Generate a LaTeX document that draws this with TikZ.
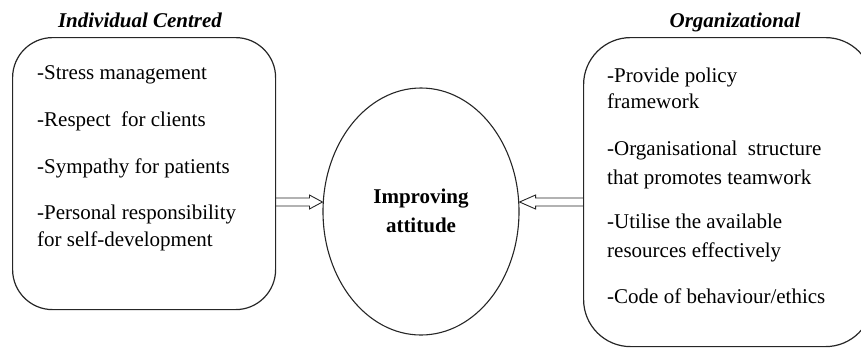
\documentclass[tikz,border=0pt]{standalone}
\usepackage{fontspec}
\setmainfont{Liberation Serif}
\usetikzlibrary{shapes.geometric,calc}
\tikzset{
  box/.style={draw=black!85, line width=1.2pt, anchor=north west},
  oval/.style={ellipse, draw=black!85, line width=1.1pt, inner sep=0pt},
  txt/.style={anchor=base west, inner sep=0pt, font=\fontsize{21}{26}\selectfont},
  ctr/.style={anchor=base, inner sep=0pt, font=\fontsize{21}{26}\selectfont\bfseries},
  ttl/.style={anchor=base, inner sep=0pt, font=\fontsize{21}{26}\selectfont\bfseries\itshape},
  arr/.style={draw=black!85, line width=0.9pt, line join=miter}
}
\begin{document}
\begin{tikzpicture}[x=1pt,y=-1pt]
\useasboundingbox (0,0) rectangle (861,349);
\clip (0,0) rectangle (861,349);
% boxes
\node[box, rounded corners=40pt, minimum width=263pt, minimum height=272pt] (L) at (12,37) {};
\node[box, rounded corners=47pt, minimum width=289pt, minimum height=309pt] (R) at (583,37) {};
\node[oval, minimum width=196pt, minimum height=247pt] (E) at (421,211.5) {};
% titles
\node[ttl] (tl) at (140,27) {Individual Centred};
\node[ttl] (tr) at (735,27) {Organizational};
% centre text
\node[ctr] (c1) at (421,203) {Improving};
\node[ctr] (c2) at (421,232) {attitude};
% left items
\node[txt] (l1) at (37,79) {-Stress management};
\node[txt] (l2) at (37,126) {-Respect\ \ for clients};
\node[txt] (l3) at (37,173) {-Sympathy\ for patients};
\node[txt] (l4) at (37,219) {-Personal\ responsibility};
\node[txt] (l5) at (37,246) {for self-development};
% right items
\node[txt] (r1) at (607,82) {-Provide policy};
\node[txt] (r2) at (607,108) {framework};
\node[txt] (r3) at (607,155) {-Organisational\ \ structure};
\node[txt] (r4) at (607,184) {that promotes teamwork};
\node[txt] (r5) at (607,228) {-Utilise the available};
\node[txt] (r6) at (607,257) {resources effectively};
\node[txt] (r7) at (607,303) {-Code of behaviour/ethics};
% arrows
\coordinate (ay) at (0,202);
\coordinate (ls) at (L.east |- ay);
\coordinate (lt) at (E.west |- ay);
\coordinate (rs) at (R.west |- ay);
\coordinate (rt) at (E.east |- ay);
\draw[arr] ($(ls)+(0,-4)$) -- ($(lt)+(-13,-4)$) -- ($(lt)+(-13,-7)$) -- (lt)
  -- ($(lt)+(-13,7)$) -- ($(lt)+(-13,4)$) -- ($(ls)+(0,4)$);
\draw[arr] ($(rs)+(0,-4)$) -- ($(rt)+(16,-4)$) -- ($(rt)+(16,-7)$) -- (rt)
  -- ($(rt)+(16,7)$) -- ($(rt)+(16,4)$) -- ($(rs)+(0,4)$);
\end{tikzpicture}
\end{document}
